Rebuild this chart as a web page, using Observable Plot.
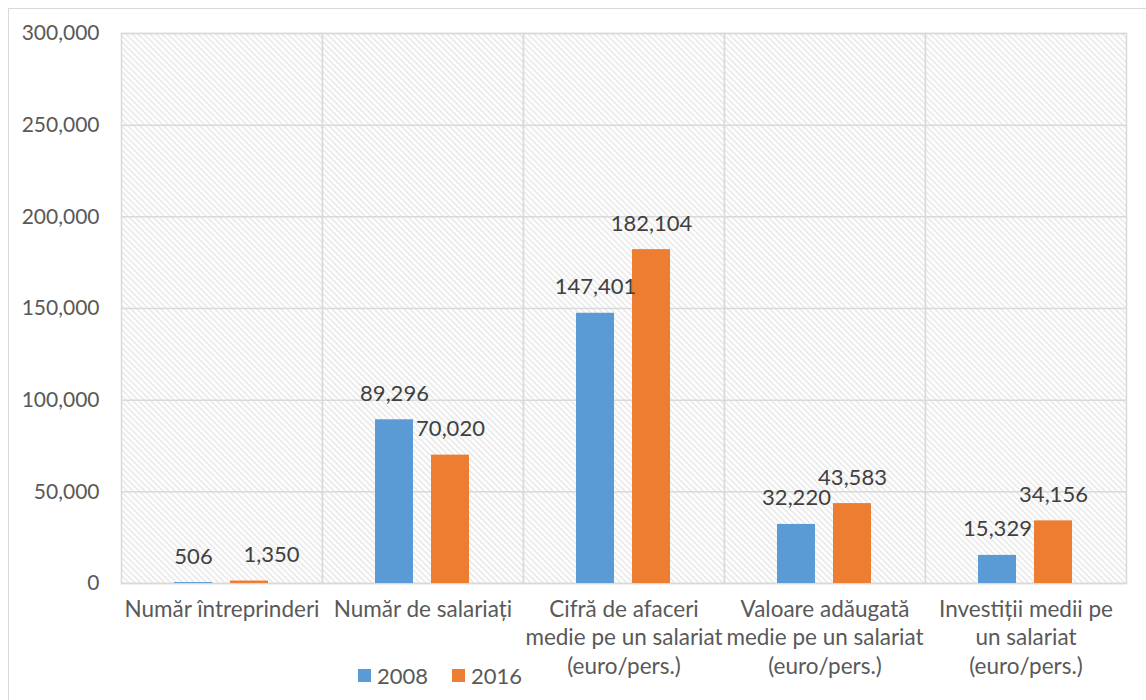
<!DOCTYPE html>
<html>
<head>
<meta charset="utf-8">
<script src="https://cdn.jsdelivr.net/npm/d3@7"></script>
<script src="https://cdn.jsdelivr.net/npm/@observablehq/plot@0.6"></script>
<style>
  html, body { margin: 0; padding: 0; background: #fff; }
  body { width: 1146px; height: 700px; position: relative; overflow: hidden; font-family: Lato, "Open Sans", sans-serif; }
  #border { position: absolute; left: 8px; top: 8px; width: 1150px; height: 700px; border: 1px solid #d9d9d9; box-sizing: border-box; pointer-events: none; }
  #chart { position: absolute; left: 0; top: 0; }
  #legend { position: absolute; top: 662px; left: 0; width: 880px; display: flex; justify-content: center; gap: 24px; font-size: 22px; color: #595959; }
  #legend span.item { display: flex; align-items: center; gap: 6px; }
  #legend span.sw { width: 13px; height: 13px; display: inline-block; }
</style>
</head>
<body>
<div id="chart"></div>
<div id="border"></div>
<div id="legend"></div>
<script>
const categories = [
  "Număr întreprinderi",
  "Număr de salariați",
  "Cifră de afaceri\nmedie pe un salariat\n(euro/pers.)",
  "Valoare adăugată\nmedie pe un salariat\n(euro/pers.)",
  "Investiții medii pe\nun salariat\n(euro/pers.)"
];
const years = ["2008", "2016"];
const values2008 = [506, 89296, 147401, 32220, 15329];
const values2016 = [1350, 70020, 182104, 43583, 34156];
const yTicks = [0, 50000, 100000, 150000, 200000, 250000, 300000];
const colors = ["#5B9BD5", "#ED7D31"];

const data = [];
categories.forEach((c, i) => {
  data.push({cat: c, year: years[0], value: values2008[i]});
  data.push({cat: c, year: years[1], value: values2016[i]});
});
const catData = categories.map(c => ({cat: c}));
const fmt = d3.format(",");
// Excel nudged the first category's 2016 label to the right to avoid overlap
const nudged = d => d.cat === categories[0] && d.year === years[1];

const plot = Plot.plot({
  width: 1146,
  height: 700,
  marginLeft: 119,
  marginRight: 19,
  marginTop: 33,
  marginBottom: 117,
  style: {fontFamily: "Lato, 'Open Sans', sans-serif", fontSize: "21px", color: "#595959", background: "transparent"},
  fx: {domain: categories, padding: 0, axis: null},
  x: {domain: years, paddingInner: 0.316, paddingOuter: 0.926, axis: null},
  y: {domain: [0, 300000], ticks: yTicks, tickFormat: fmt, tickSize: 0, tickPadding: 22, label: null},
  color: {domain: years, range: colors},
  marks: [
    Plot.frame({fill: "url(#hatch)", stroke: "#d9d9d9", strokeWidth: 1.5}),
    Plot.gridY(yTicks, {stroke: "#d9d9d9", strokeOpacity: 1, strokeWidth: 1.5}),
    Plot.axisY({ticks: yTicks, tickFormat: fmt, tickSize: 0, tickPadding: 22, fontSize: 21, fill: "#595959", label: null}),
    Plot.barY(data, {fx: "cat", x: "year", y: "value", fill: "year"}),
    Plot.text(data.filter(d => !nudged(d)), {fx: "cat", x: "year", y: "value", text: d => fmt(d.value), dy: -26, lineAnchor: "middle", fill: "#404040", fontSize: 22}),
    Plot.text(data.filter(nudged), {fx: "cat", x: "year", y: "value", text: d => fmt(d.value), dy: -26, dx: 22, lineAnchor: "middle", fill: "#404040", fontSize: 22}),
    Plot.text(catData, {fx: "cat", text: "cat", frameAnchor: "bottom", dy: 13, lineAnchor: "top", lineHeight: 1.27, fill: "#595959", fontSize: 22.5})
  ]
});

const svg = d3.select(plot);
const defs = svg.insert("defs", ":first-child");
const pat = defs.append("pattern")
  .attr("id", "hatch")
  .attr("patternUnits", "userSpaceOnUse")
  .attr("width", 6).attr("height", 6);
pat.append("rect").attr("width", 6).attr("height", 6).attr("fill", "#ffffff");
pat.append("path")
  .attr("d", "M-1,-1 L7,7 M-1,5 L1,7 M5,-1 L7,1")
  .attr("stroke", "#dcdcdc").attr("stroke-width", 1.1);

document.getElementById("chart").appendChild(plot);

const legend = document.getElementById("legend");
years.forEach((y, i) => {
  const item = document.createElement("span");
  item.className = "item";
  const sw = document.createElement("span");
  sw.className = "sw";
  sw.style.background = colors[i];
  const t = document.createElement("span");
  t.textContent = y;
  item.appendChild(sw);
  item.appendChild(t);
  legend.appendChild(item);
});
</script>
</body>
</html>
